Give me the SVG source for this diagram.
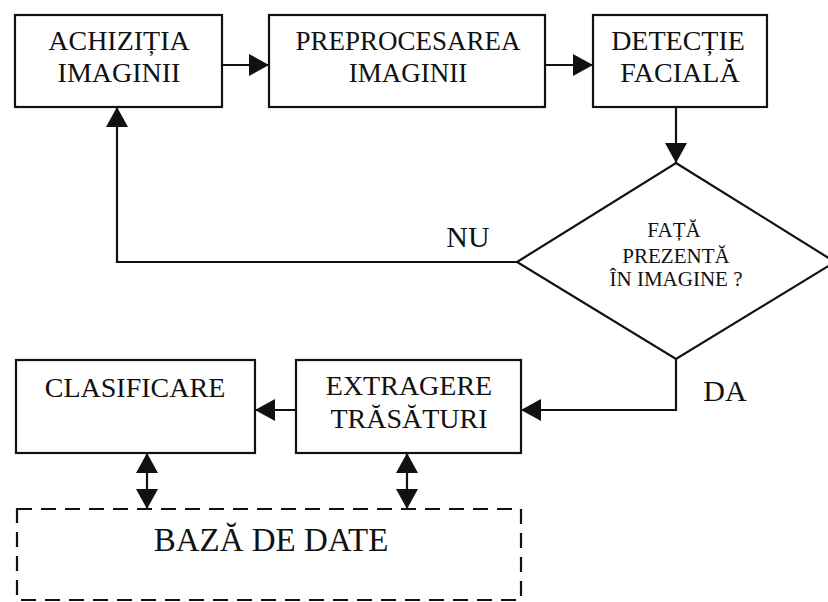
<svg xmlns="http://www.w3.org/2000/svg" width="828" height="602" viewBox="0 0 828 602">
  <style>
    .box { fill: #fff; stroke: #111; stroke-width: 2.2; }
    .dash { fill: none; stroke: #111; stroke-width: 2.2; stroke-dasharray: 15 9; }
    .wire { fill: none; stroke: #111; stroke-width: 2.2; }
    .lbl { font-family: "Liberation Serif", "Times New Roman", serif; font-size: 28px; fill: #111; text-anchor: middle; }
    .narrow { font-size: 27px; }
    .small { font-size: 21px; }
    .big { font-size: 30px; }
    .db { font-size: 33px; }
  </style>
  <defs>
    <marker id="arrow" markerUnits="userSpaceOnUse" viewBox="0 0 20 22" markerWidth="20" markerHeight="22" refX="20" refY="11" orient="auto-start-reverse">
      <path d="M0,0 L20,11 L0,22 Z" fill="#111"/>
    </marker>
  </defs>

  <rect width="828" height="602" fill="#fff"/>

  <g id="connectors">
    <!-- top row flow -->
    <line class="wire" x1="222" y1="65" x2="269" y2="65" marker-end="url(#arrow)"/>
    <line class="wire" x1="545" y1="65" x2="593" y2="65" marker-end="url(#arrow)"/>
    <line class="wire" x1="676" y1="107" x2="676" y2="163" marker-end="url(#arrow)"/>
    <!-- NU branch back to acquisition -->
    <polyline class="wire" points="517,262 117,262 117,107" marker-end="url(#arrow)"/>
    <!-- DA branch to feature extraction -->
    <polyline class="wire" points="676,359 676,410 521,410" marker-end="url(#arrow)"/>
    <line class="wire" x1="296" y1="410" x2="255" y2="410" marker-end="url(#arrow)"/>
    <!-- database links -->
    <line class="wire" x1="147" y1="453" x2="147" y2="509" marker-start="url(#arrow)" marker-end="url(#arrow)"/>
    <line class="wire" x1="407" y1="453" x2="407" y2="509" marker-start="url(#arrow)" marker-end="url(#arrow)"/>
    <text class="lbl big" x="468" y="247">NU</text>
    <text class="lbl big" x="725" y="401">DA</text>
  </g>

  <g id="achizitia">
    <rect class="box" x="15" y="15" width="207" height="92"/>
    <text class="lbl" x="119" y="50">ACHIZIȚIA</text>
    <text class="lbl" x="119" y="82">IMAGINII</text>
  </g>

  <g id="preprocesare">
    <rect class="box" x="269" y="15" width="276" height="92"/>
    <text class="lbl narrow" x="408" y="50">PREPROCESAREA</text>
    <text class="lbl narrow" x="408" y="82">IMAGINII</text>
  </g>

  <g id="detectie">
    <rect class="box" x="593" y="15" width="174" height="92"/>
    <text class="lbl" x="678" y="50">DETECȚIE</text>
    <text class="lbl" x="680" y="82">FACIALĂ</text>
  </g>

  <g id="decizie">
    <polygon class="box" points="676,163 835,262 676,359 517,262"/>
    <text class="lbl small" x="674" y="237">FAȚĂ</text>
    <text class="lbl small" x="676" y="263">PREZENTĂ</text>
    <text class="lbl small" x="676" y="286">ÎN IMAGINE ?</text>
  </g>

  <g id="clasificare">
    <rect class="box" x="16" y="360" width="239" height="93"/>
    <text class="lbl" x="135" y="397">CLASIFICARE</text>
  </g>

  <g id="extragere">
    <rect class="box" x="296" y="360" width="225" height="93"/>
    <text class="lbl" x="409" y="395">EXTRAGERE</text>
    <text class="lbl" x="409" y="428">TRĂSĂTURI</text>
  </g>

  <g id="baza-date">
    <rect class="dash" x="17" y="509" width="504" height="91"/>
    <text class="lbl db" x="271" y="551">BAZĂ DE DATE</text>
  </g>
</svg>
